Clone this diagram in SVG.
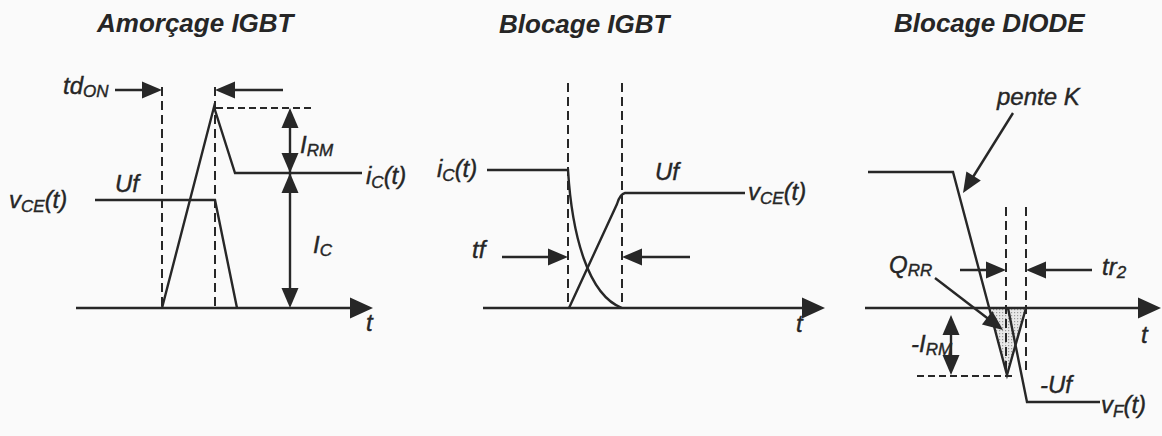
<svg xmlns="http://www.w3.org/2000/svg" width="1162" height="436" viewBox="0 0 1162 436">
<defs>
<style>
.ln{fill:none;stroke:#272727;stroke-width:2.4;stroke-linejoin:miter}
.ds{fill:none;stroke:#272727;stroke-width:2;stroke-dasharray:9 5}
.dh{fill:none;stroke:#272727;stroke-width:2;stroke-dasharray:7 4}
.hd{fill:#272727}
.ti{font-family:"Liberation Sans",Arial,sans-serif;font-weight:bold;font-style:italic;font-size:26px;fill:#262626}
.lb{font-family:"Liberation Sans",Arial,sans-serif;font-style:italic;font-size:24px;fill:#262626;stroke:#262626;stroke-width:0.4}
.sb{font-size:17px}
</style>
<path id="hd" d="M0,0 L-20,-8.5 L-20,8.5 Z"/>
<path id="hx" d="M0,0 L-23,-10.5 L-23,10.5 Z"/>
<pattern id="dots" patternUnits="userSpaceOnUse" width="3" height="3"><rect width="3" height="3" fill="#e8e8e8"/><rect width="1.2" height="1.2" fill="#9a9a9a"/></pattern>
</defs>
<rect width="1162" height="436" fill="#fafafa"/>

<g id="amorcage-igbt">
<text class="ti" x="97" y="32">Amorçage IGBT</text>
<text class="lb" x="63" y="94">td<tspan class="sb" dy="3">ON</tspan></text>
<text class="lb" x="115" y="192">Uf</text>
<text class="lb" x="9" y="208">v<tspan class="sb" dy="4">CE</tspan><tspan dy="-4">(t)</tspan></text>
<text class="lb" x="366" y="184">i<tspan class="sb" dy="4">C</tspan><tspan dy="-4">(t)</tspan></text>
<text class="lb" x="300" y="153">I<tspan class="sb" dy="3">RM</tspan></text>
<text class="lb" x="313" y="253">I<tspan class="sb" dy="3">C</tspan></text>
<text class="lb" x="366" y="331">t</text>
<path class="ln" d="M162,308 L214,107 L235,173 L362,173"/>
<path class="ln" d="M95,200 L215,200 L237,308"/>
</g>

<g id="blocage-igbt">
<text class="ti" x="499" y="33">Blocage IGBT</text>
<text class="lb" x="437" y="177">i<tspan class="sb" dy="4">C</tspan><tspan dy="-4">(t)</tspan></text>
<text class="lb" x="655" y="180">Uf</text>
<text class="lb" x="748" y="200">v<tspan class="sb" dy="4">CE</tspan><tspan dy="-4">(t)</tspan></text>
<text class="lb" x="472" y="258">tf</text>
<text class="lb" x="796" y="332">t</text>
<path class="ln" d="M487,170 L568,170 C572,235 588,295 622,308"/>
<path class="ln" d="M569,308 L617,204 Q620,194 625,193 L745,193"/>
</g>

<g id="blocage-diode">
<text class="ti" x="894" y="32">Blocage DIODE</text>
<text class="lb" x="997" y="105">pente K</text>
<text class="lb" x="889" y="273">Q<tspan class="sb" dy="3">RR</tspan></text>
<text class="lb" x="1102" y="275">tr<tspan class="sb" dy="3">2</tspan></text>
<text class="lb" x="911" y="352">-I<tspan class="sb" dy="3">RM</tspan></text>
<text class="lb" x="1040" y="393">-Uf</text>
<text class="lb" x="1101" y="413">v<tspan class="sb" dy="4">F</tspan><tspan dy="-4">(t)</tspan></text>
<text class="lb" x="1141" y="343">t</text>
<polygon points="990,308 1007,375 1026,308" fill="url(#dots)"/>
<path class="ln" d="M868,172 L953,172 L1007,375 L1026,308"/>
<path class="ln" d="M1008,308 L1027,402 L1100,402"/>
</g>

<g id="connectors">
<path class="ln" d="M76,308 L360,308"/>
<use href="#hx" class="hd" transform="translate(373,308)"/>
<path class="ln" d="M483,308 L812,308"/>
<use href="#hx" class="hd" transform="translate(825,308)"/>
<path class="ln" d="M865,308 L1148,308"/>
<use href="#hx" class="hd" transform="translate(1161,308)"/>
<path class="ds" d="M162,87 V308 M215,87 V308"/>
<path class="dh" d="M216,108 H313"/>
<path class="ds" d="M568,83 V308 M622,83 V308"/>
<path class="ds" d="M1006,207 V375 M1026,207 V375"/>
<path class="dh" d="M917,376 H1013"/>
<path class="ln" d="M115,90 L152,90"/>
<use href="#hd" class="hd" transform="translate(162,90)"/>
<path class="ln" d="M283,90 L225,90"/>
<use href="#hd" class="hd" transform="translate(215,90) rotate(180)"/>
<path class="ln" d="M290,118 L290,298"/>
<use href="#hd" class="hd" transform="translate(290,108) rotate(-90)"/>
<use href="#hd" class="hd" transform="translate(290,173) rotate(90)"/>
<use href="#hd" class="hd" transform="translate(290,173) rotate(-90)"/>
<use href="#hd" class="hd" transform="translate(290,308) rotate(90)"/>
<path class="ln" d="M502,257 L558,257"/>
<use href="#hd" class="hd" transform="translate(568,257)"/>
<path class="ln" d="M690,257 L632,257"/>
<use href="#hd" class="hd" transform="translate(622,257) rotate(180)"/>
<path class="ln" d="M1013,113 L968,185"/>
<use href="#hd" class="hd" transform="translate(963,193) rotate(122)"/>
<path class="ln" d="M935,278 L995,324"/>
<use href="#hd" class="hd" transform="translate(1003,330) rotate(37.4)"/>
<path class="ln" d="M960,270 L996,270"/>
<use href="#hd" class="hd" transform="translate(1006,270)"/>
<path class="ln" d="M1092,270 L1036,270"/>
<use href="#hd" class="hd" transform="translate(1026,270) rotate(180)"/>
<path class="ln" d="M951,325 L951,365"/>
<use href="#hd" class="hd" transform="translate(951,315) rotate(-90)"/>
<use href="#hd" class="hd" transform="translate(951,375) rotate(90)"/>
</g>
</svg>
